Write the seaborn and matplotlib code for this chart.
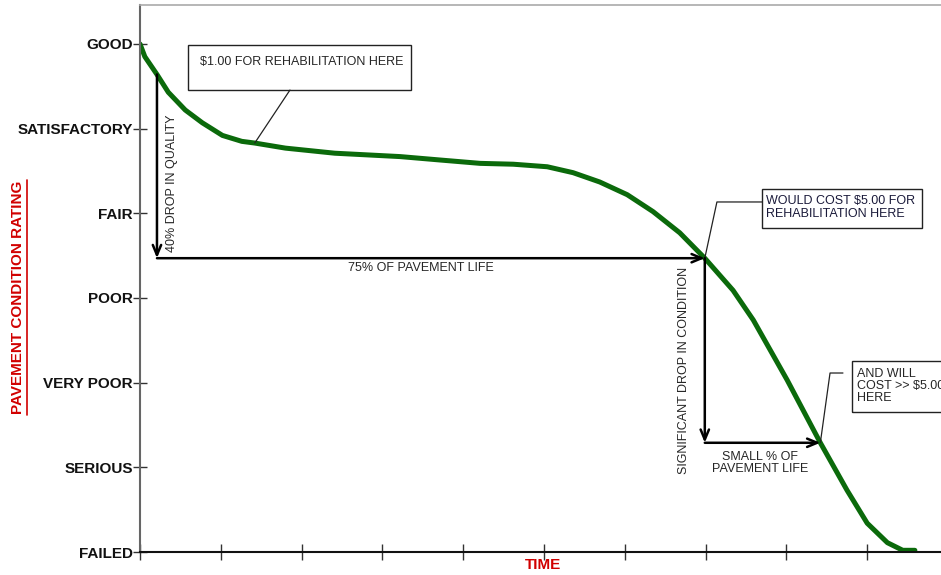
import numpy as np
import pandas as pd
import matplotlib
matplotlib.use("Agg")
import matplotlib.pyplot as plt
from matplotlib.lines import Line2D
from matplotlib.patches import Rectangle
import seaborn as sns

# Rating scale (FAILED at 0 up to GOOD at 6)
rating_labels = ["FAILED", "SERIOUS", "VERY POOR", "POOR", "FAIR", "SATISFACTORY", "GOOD"]
time_ticks = [0, 1, 2, 3, 4, 5, 6, 7, 8, 9]

# Pavement deterioration curve
time_pts = [0.00, 0.06, 0.21, 0.35, 0.56, 0.77, 1.02, 1.26, 1.42, 1.80, 2.41, 3.22,
            3.71, 4.21, 4.62, 5.04, 5.36, 5.69, 6.03, 6.35, 6.68, 6.99, 7.34, 7.59,
            8.01, 8.42, 8.75, 9.00, 9.25, 9.44, 9.59]
rating_pts = [6.00, 5.85, 5.64, 5.43, 5.22, 5.07, 4.92, 4.85, 4.83, 4.77, 4.71, 4.67,
              4.63, 4.59, 4.58, 4.55, 4.48, 4.37, 4.22, 4.02, 3.77, 3.47, 3.09, 2.74,
              2.03, 1.29, 0.73, 0.34, 0.11, 0.02, 0.02]

# indices of curve points used by arrows / callouts
i_start, i_cheap, i_knee, i_late = 2, 8, 21, 25

sns.set_theme(style="white")
plt.rcParams["font.family"] = ["Liberation Sans", "DejaVu Sans"]
red = "#d10000"

df = pd.DataFrame({"time": time_pts, "rating": rating_pts})

fig = plt.figure(figsize=(9.41, 5.75), dpi=100)
ax = fig.add_axes([140 / 941, 23 / 575, 801 / 941, 547 / 575])
sns.lineplot(data=df, x="time", y="rating", ax=ax, color="#0b6a0b", linewidth=3.6,
             solid_capstyle="round", solid_joinstyle="round")

ax.set_xlim(0, 801 / 80.8)
ax.set_ylim(0, 547 / 84.67)
ax.set_yticks(range(len(rating_labels)))
ax.set_yticklabels(rating_labels, fontweight="bold", fontsize=11, color="#111111")
ax.set_xticks(time_ticks)
ax.set_xticklabels([])
ax.tick_params(axis="y", direction="inout", length=10, width=1, color="#333333", pad=0, left=True)
ax.tick_params(axis="x", direction="inout", length=12, width=1, color="#333333", bottom=True)
ax.set_xlabel("")
ax.set_ylabel("")

ax.spines["left"].set_color("#666666")
ax.spines["left"].set_linewidth(1.5)
ax.spines["bottom"].set_color("#111111")
ax.spines["bottom"].set_linewidth(1.5)
ax.spines["top"].set_color("#aaaaaa")
ax.spines["top"].set_linewidth(1.2)
ax.spines["right"].set_visible(False)

# axis titles (y one underlined)
fig.text(543 / 941, 1 - 565 / 575, "TIME", color=red, fontweight="bold", fontsize=11,
         ha="center", va="center")
fig.text(18 / 941, 1 - 297 / 575, "PAVEMENT CONDITION RATING", rotation=90, color=red,
         fontweight="bold", fontsize=11, ha="center", va="center")
fig.add_artist(Line2D([27 / 941, 27 / 941], [1 - 180 / 575, 1 - 415 / 575],
                      color=red, linewidth=1.2, transform=fig.transFigure))

arrow = dict(arrowstyle="->,head_length=0.6,head_width=0.25", color="black",
             linewidth=1.8, shrinkA=0, shrinkB=0)

xs, ys = time_pts[i_start], rating_pts[i_start]
xk, yk = time_pts[i_knee], rating_pts[i_knee]
xl, yl = time_pts[i_late], rating_pts[i_late]

# 40% drop / 75% of life
ax.annotate("", xy=(xs, yk), xytext=(xs, ys), arrowprops=arrow)
ax.annotate("", xy=(xk, yk), xytext=(xs, yk), arrowprops=arrow)
ax.text(xs + 0.19, 4.36, "40% DROP IN QUALITY", rotation=90, ha="center", va="center",
        fontsize=9)
ax.text(3.47, yk - 0.12, "75% OF PAVEMENT LIFE", ha="center", va="center", fontsize=9)

# significant drop / small % of life
ax.annotate("", xy=(xk, yl), xytext=(xk, yk), arrowprops=arrow)
ax.annotate("", xy=(xl, yl), xytext=(xk, yl), arrowprops=arrow)
ax.text(xk - 0.26, 2.15, "SIGNIFICANT DROP IN CONDITION", rotation=90, ha="center",
        va="center", fontsize=9)
ax.text(7.67, 1.05, "SMALL % OF\nPAVEMENT LIFE", ha="center", va="center",
        fontsize=9, linespacing=1.05)

# callout boxes
ax.add_patch(Rectangle((0.594, 5.456), 2.76, 0.534, fill=False, edgecolor="#222222", linewidth=1))
ax.text(0.743, 5.79, "$1.00 FOR REHABILITATION HERE", ha="left", va="center", fontsize=9)
ax.plot([time_pts[i_cheap], 1.856], [rating_pts[i_cheap], 5.456], color="#222222", linewidth=0.9)

ax.add_patch(Rectangle((7.70, 3.827), 1.98, 0.46, fill=False, edgecolor="#222222", linewidth=1))
ax.text(7.75, 4.07, "WOULD COST $5.00 FOR\nREHABILITATION HERE", ha="left", va="center",
        fontsize=9, color="#1a1a3a", linespacing=1.05)
ax.plot([xk, 7.14, 7.70], [yk, 4.134, 4.134], color="#222222", linewidth=0.9)

ax.add_patch(Rectangle((8.81, 1.653), 1.5, 0.603, fill=False, edgecolor="#222222",
                       linewidth=1, clip_on=False))
ax.text(8.87, 1.96, "AND WILL\nCOST >> $5.00\nHERE", ha="left", va="center",
        fontsize=9, linespacing=1.05, clip_on=True)
ax.plot([xl, 8.54, 8.70], [yl, 2.114, 2.114], color="#222222", linewidth=0.9)

fig.savefig("out.png", dpi=100)
